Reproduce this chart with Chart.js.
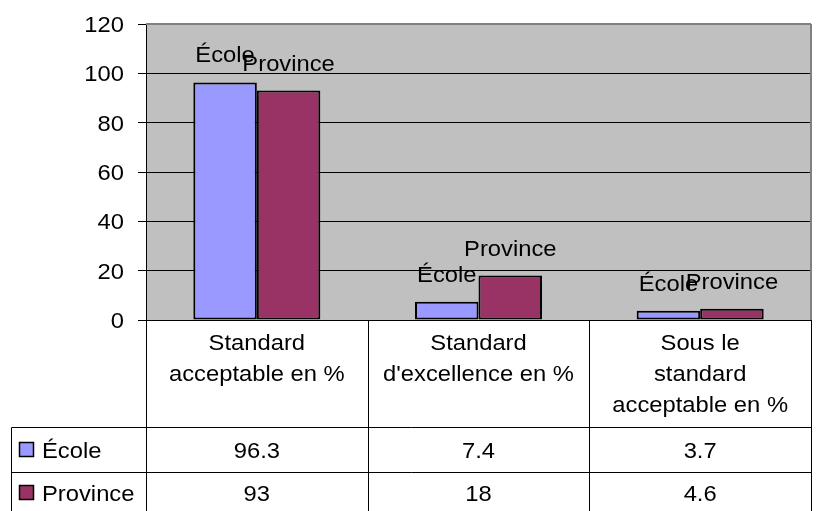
<!DOCTYPE html>
<html>
<head>
<meta charset="utf-8">
<script src="https://cdn.jsdelivr.net/npm/chart.js@4/dist/chart.umd.min.js"></script>
<style>
  html, body { margin: 0; padding: 0; background: #fff; }
  #wrap { width: 817px; height: 511px; }
</style>
</head>
<body>
<div id="wrap"><canvas id="graf" width="817" height="511"></canvas></div>
<script>
/* Donnees du graphique */
const categories = [
  ['Standard', 'acceptable en %'],
  ['Standard', "d'excellence en %"],
  ['Sous le', 'standard', 'acceptable en %'],
];
const seriesNames = ['École', 'Province'];
const ecoleValues = [96.3, 7.4, 3.7];
const provinceValues = [93, 18, 4.6];
const yTicks = [0, 20, 40, 60, 80, 100, 120];

const COULEURS = ['#9999FF', '#993366'];
const POLICE = '22px "Liberation Sans", Arial, sans-serif';
const ETIRE = 1.08; // le texte de l'original est un peu elargi

// texte legerement etire horizontalement
function texte(ctx, t, x, y, align) {
  ctx.save();
  ctx.font = POLICE;
  ctx.fillStyle = '#000';
  ctx.textAlign = align || 'center';
  ctx.textBaseline = 'alphabetic';
  ctx.translate(x, y);
  ctx.scale(ETIRE, 1);
  ctx.fillText(t, 0, 0);
  ctx.restore();
}

function ligne(ctx, x1, y1, x2, y2) {
  ctx.beginPath();
  ctx.moveTo(x1, y1);
  ctx.lineTo(x2, y2);
  ctx.stroke();
}

const pluginFond = {
  id: 'fond',
  beforeDraw(chart) {
    const a = chart.chartArea, ctx = chart.ctx;
    ctx.save();
    ctx.fillStyle = '#C0C0C0';
    ctx.fillRect(a.left, a.top, a.right - a.left, a.bottom - a.top);
    ctx.restore();
  },
};

const pluginEtiquettes = {
  id: 'etiquettes',
  afterDatasetsDraw(chart) {
    const ctx = chart.ctx;
    chart.data.datasets.forEach((ds, i) => {
      chart.getDatasetMeta(i).data.forEach(el => {
        texte(ctx, ds.label, el.x, el.y - 20, 'center');
      });
    });
  },
};

const pluginTableau = {
  id: 'tableau',
  afterDraw(chart) {
    const ctx = chart.ctx, a = chart.chartArea;
    const ys = chart.scales.y;
    const n = categories.length;
    const w = (a.right - a.left) / n;
    const hautLigne1 = 427.5, hautLigne2 = 472.5, bas = 511, gauche = 11.5;

    ctx.save();
    // cadre gris du trace (haut et droite)
    ctx.strokeStyle = '#808080';
    ctx.lineWidth = 2;
    ligne(ctx, a.left, a.top, a.right, a.top);
    ligne(ctx, a.right, a.top, a.right, a.bottom);

    // etiquettes de l'axe Y
    yTicks.forEach(v => texte(ctx, String(v), 124, ys.getPixelForValue(v) + 8, 'right'));

    // grille du tableau
    ctx.strokeStyle = '#000';
    ctx.lineWidth = 1;
    for (let i = 0; i <= n; i++) {
      const x = Math.round(a.left + i * w) + 0.5;
      ligne(ctx, x, a.bottom, x, bas);
    }
    ligne(ctx, gauche, hautLigne1, a.right, hautLigne1);
    ligne(ctx, gauche, hautLigne2, a.right, hautLigne2);
    ligne(ctx, gauche, hautLigne1, gauche, bas);

    // en-tetes de categories
    categories.forEach((lignes, i) => {
      const cx = a.left + (i + 0.5) * w;
      lignes.forEach((t, k) => texte(ctx, t, cx, 350 + k * 31, 'center'));
    });

    // lignes de valeurs
    const series = [ecoleValues, provinceValues];
    const centres = [450, 493];
    series.forEach((vals, s) => {
      const cy = centres[s];
      ctx.fillStyle = COULEURS[s];
      ctx.fillRect(19.5, cy - 7.5, 14, 14);
      ctx.strokeStyle = '#000';
      ctx.lineWidth = 1.5;
      ctx.strokeRect(19.5, cy - 7.5, 14, 14);
      texte(ctx, seriesNames[s], 42, cy + 8, 'left');
      vals.forEach((v, i) => texte(ctx, String(v), a.left + (i + 0.5) * w, cy + 8, 'center'));
    });
    ctx.restore();
  },
};

new Chart(document.getElementById('graf'), {
  type: 'bar',
  data: {
    labels: categories,
    datasets: [
      { label: seriesNames[0], data: ecoleValues, backgroundColor: COULEURS[0] },
      { label: seriesNames[1], data: provinceValues, backgroundColor: COULEURS[1] },
    ],
  },
  options: {
    responsive: false,
    devicePixelRatio: 1,
    animation: false,
    layout: { padding: { left: 0, right: 6, top: 24, bottom: 191 } },
    datasets: {
      bar: {
        borderColor: '#000', borderWidth: 2, borderSkipped: false,
        categoryPercentage: 0.573, barPercentage: 1,
      },
    },
    plugins: { legend: { display: false }, tooltip: { enabled: false } },
    scales: {
      x: { display: false },
      y: {
        min: 0, max: 120,
        afterFit: s => { s.width = 146; },
        ticks: { display: false, stepSize: 20 },
        grid: {
          color: c => (c.tick && c.tick.value === 120 ? 'rgba(0,0,0,0)' : '#000'),
          tickColor: '#000', tickLength: 8, lineWidth: 1,
        },
        border: { display: true, color: '#000', width: 1 },
      },
    },
  },
  plugins: [pluginFond, pluginEtiquettes, pluginTableau],
});
</script>
</body>
</html>
